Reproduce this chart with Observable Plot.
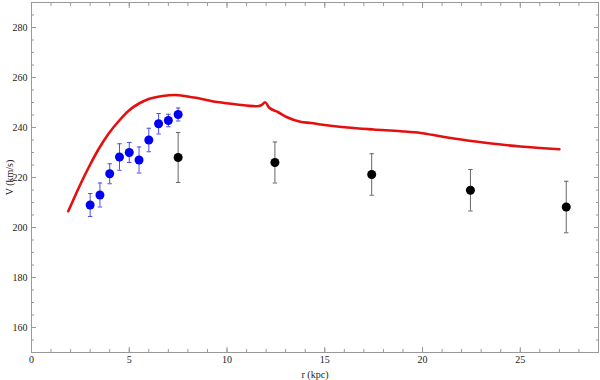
<!DOCTYPE html>
<html>
<head>
<meta charset="utf-8">
<script src="https://cdn.jsdelivr.net/npm/d3@7"></script>
<script src="https://cdn.jsdelivr.net/npm/@observablehq/plot@0.6"></script>
<style>
  html, body { margin: 0; padding: 0; background: #fff; }
  #chart { width: 600px; height: 380px; }
  #chart svg, #chart svg text { font-family: "Liberation Serif", "DejaVu Serif", serif !important; }
</style>
</head>
<body>
<div id="chart"></div>
<script>
// Model rotation curve (red line)
const curveR = [1.88, 2.25, 2.6, 2.95, 3.45, 3.95, 4.5, 5.0, 5.5, 6.0, 6.7, 7.35, 8.3, 9.5, 10.5, 11.5, 11.75, 11.95, 12.15, 12.6, 13.1, 13.75, 14.3, 14.8, 16.15, 17.5, 18.9, 19.9, 20.9, 21.6, 23.3, 25.0, 27.0];
const curveV = [206.5, 213, 218.9, 224.4, 231.6, 237.6, 242.9, 246.9, 249.6, 251.4, 252.6, 253.0, 252.0, 250.2, 249.2, 248.5, 248.9, 250.1, 248.0, 246.2, 244.0, 242.3, 241.8, 241.2, 240.0, 239.2, 238.5, 237.8, 236.5, 235.6, 233.8, 232.4, 231.3];

// Inner data (blue)
const blueR = [3, 3.5, 4, 4.5, 5, 5.5, 6, 6.5, 7, 7.5];
const blueV = [209, 213, 221.5, 228.2, 230, 227, 235, 241.5, 242.8, 245.2];
const blueE = [4.6, 4.8, 4.0, 5.3, 4.0, 5.2, 4.7, 4.1, 2.5, 2.6];

// Outer data (black)
const blackR = [7.5, 12.45, 17.4, 22.45, 27.35];
const blackV = [228, 226, 221.2, 214.9, 208.2];
const blackE = [10, 8.2, 8.3, 8.3, 10.3];

// Axis ticks
const xMajor = [0, 5, 10, 15, 20, 25];
const xMinor = d3.range(0, 30, 1);
const yMajor = [160, 180, 200, 220, 240, 260, 280];
const yMinor = d3.range(150, 291, 5);

const curve = curveR.map((r, i) => ({r, v: curveV[i]}));
const blue = blueR.map((r, i) => ({r, v: blueV[i], e: blueE[i]}));
const black = blackR.map((r, i) => ({r, v: blackV[i], e: blackE[i]}));

const capSymbol = {
  draw(ctx, size) {
    const w = Math.sqrt(size) / 2;
    ctx.moveTo(-w, 0);
    ctx.lineTo(w, 0);
  }
};

const tickColor = "#999";
const textColor = "#222";

const chart = Plot.plot({
  width: 600,
  height: 380,
  marginLeft: 31,
  marginRight: 2,
  marginTop: 2,
  marginBottom: 28,
  style: {fontFamily: "Liberation Serif", fontSize: "10px", background: "#fff", color: textColor},
  x: {domain: [0, 29]},
  y: {domain: [150, 290]},
  marks: [
    // tick labels
    Plot.axisX({ticks: xMajor, tickSize: 0, tickPadding: 3, label: "r (kpc)", labelAnchor: "center", labelOffset: 25, labelArrow: "none", fill: textColor}),
    Plot.axisY({ticks: yMajor, tickSize: 0, tickPadding: 4, label: "V (km/s)", labelAnchor: "center", labelOffset: 26, labelArrow: "none", fill: textColor}),
    // inward ticks, all four sides
    Plot.axisX({ticks: xMinor, tickSize: -3, text: null, label: null, stroke: tickColor}),
    Plot.axisX({ticks: xMajor, tickSize: -5, text: null, label: null, stroke: tickColor}),
    Plot.axisX({anchor: "top", ticks: xMinor, tickSize: -3, text: null, label: null, stroke: tickColor}),
    Plot.axisX({anchor: "top", ticks: xMajor, tickSize: -5, text: null, label: null, stroke: tickColor}),
    Plot.axisY({ticks: yMinor, tickSize: -3, text: null, label: null, stroke: tickColor}),
    Plot.axisY({ticks: yMajor, tickSize: -5, text: null, label: null, stroke: tickColor}),
    Plot.axisY({anchor: "right", ticks: yMinor, tickSize: -3, text: null, label: null, stroke: tickColor}),
    Plot.axisY({anchor: "right", ticks: yMajor, tickSize: -5, text: null, label: null, stroke: tickColor}),
    Plot.frame({stroke: tickColor, strokeOpacity: 1}),
    // model curve
    Plot.line(curve, {x: "r", y: "v", stroke: "#e3100f", strokeWidth: 2.6, curve: "monotone-x"}),
    // blue error bars
    Plot.ruleX(blue, {x: "r", y1: d => d.v - d.e, y2: d => d.v + d.e, stroke: "#4d4dee", strokeWidth: 1}),
    Plot.dot(blue, {x: "r", y: d => d.v - d.e, symbol: capSymbol, r: 2.5, stroke: "#4d4dee", strokeWidth: 1, fill: "none"}),
    Plot.dot(blue, {x: "r", y: d => d.v + d.e, symbol: capSymbol, r: 2.5, stroke: "#4d4dee", strokeWidth: 1, fill: "none"}),
    // black error bars
    Plot.ruleX(black, {x: "r", y1: d => d.v - d.e, y2: d => d.v + d.e, stroke: "#666", strokeWidth: 1}),
    Plot.dot(black, {x: "r", y: d => d.v - d.e, symbol: capSymbol, r: 2.5, stroke: "#666", strokeWidth: 1, fill: "none"}),
    Plot.dot(black, {x: "r", y: d => d.v + d.e, symbol: capSymbol, r: 2.5, stroke: "#666", strokeWidth: 1, fill: "none"}),
    // points
    Plot.dot(blue, {x: "r", y: "v", r: 4.5, fill: "#0000f0", stroke: "none"}),
    Plot.dot(black, {x: "r", y: "v", r: 4.5, fill: "#000", stroke: "none"})
  ]
});
document.getElementById("chart").appendChild(chart);
</script>
</body>
</html>
